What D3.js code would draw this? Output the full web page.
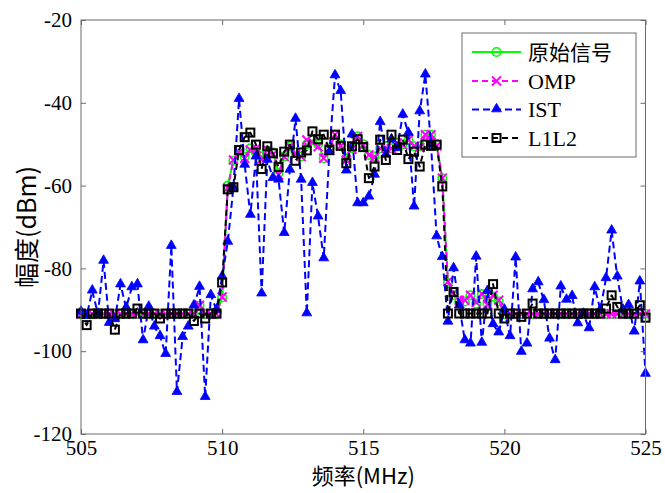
<!DOCTYPE html>
<html><head><meta charset="utf-8">
<script src="https://cdn.jsdelivr.net/npm/d3@7"></script>
<style>body{margin:0;background:#fff}svg{display:block}</style>
</head><body>
<svg id="c" width="665" height="493"></svg>
<script>
const freq = [505.0,505.2,505.4,505.6,505.8,506.0,506.2,506.4,506.6,506.8,507.0,507.2,507.4,507.6,507.8,508.0,508.2,508.4,508.6,508.8,
509.0,509.2,509.4,509.6,509.8,510.0,510.2,510.4,510.6,510.8,511.0,511.2,511.4,511.6,511.8,512.0,512.2,512.4,512.6,512.8,
513.0,513.2,513.4,513.6,513.8,514.0,514.2,514.4,514.6,514.8,515.0,515.2,515.4,515.6,515.8,516.0,516.2,516.4,516.6,516.8,
517.0,517.2,517.4,517.6,517.8,518.0,518.2,518.4,518.6,518.8,519.0,519.2,519.4,519.6,519.8,520.0,520.2,520.4,520.6,520.8,
521.0,521.2,521.4,521.6,521.8,522.0,522.2,522.4,522.6,522.8,523.0,523.2,523.4,523.6,523.8,524.0,524.2,524.4,524.6,524.8,525.0];

const original = [-91,-91,-91,-91,-91,-91,-91,-91,-91,-91,-91,-91,-91,-91,-91,-91,-91,-91,-91,-91,
-91,-89,-91,-91,-91,-87,-60,-54,-51.5,-53,-51,-52,-53,-51.5,-52,-57,-53,-50.5,-52,-53,
-50,-49,-50,-53.4,-51,-47.7,-50,-53.4,-51,-48.1,-50,-52.6,-53,-51,-50.5,-51,-49.7,-50,-48.9,-50.5,
-50.5,-47.7,-47.7,-50,-58.2,-83.5,-86.5,-88,-88,-86.5,-88.5,-86.2,-88.5,-86.8,-88,-91,-91,-91,-91,-91,
-91,-91,-91,-91,-91,-91,-91,-91,-91,-91,-91,-91,-91,-91,-91,-91,-91,-91,-91,-91,-91];

const omp = [-91,-91,-91,-91,-91,-91,-91,-91,-91,-91,-91,-91,-91,-91,-91,-91,-91,-91,-91,-91,
-91,-88.9,-91,-91,-91,-86.9,-60.6,-53.8,-52,-53.4,-51.4,-51,-53.6,-51.4,-52.5,-57.4,-53,-50.5,-52.4,-53,
-49,-49.5,-50.6,-53.4,-51,-47.7,-50.4,-53.8,-51.2,-48.1,-50.3,-52.6,-53.2,-51,-51,-51,-49.7,-50.2,-48.9,-50.5,
-50.8,-47.7,-47.7,-50.4,-58.2,-83.2,-86,-87.7,-87.7,-86.5,-88.2,-86.1,-88.8,-86.5,-87.7,-91,-91,-91,-91,-91,
-91,-91,-91,-91,-91,-91,-91,-91,-91,-91,-91,-91,-91,-91,-91,-91,-91,-91,-91,-91,-91];

const ist = [-90.5,-91.5,-85.4,-91,-78.2,-93.2,-92.3,-83.9,-89.5,-84.6,-83.9,-97.4,-89.3,-94.1,-96.4,-100.7,-74.6,-109.9,-96.6,-94.1,
-89,-84.5,-111.1,-86.5,-90,-82,-73.6,-60.5,-39.1,-55,-67.1,-53,-86.1,-53.8,-58.2,-58.6,-71.5,-56.2,-43.9,-58.6,
-90.9,-59.4,-67.5,-77.6,-52,-33.4,-37.2,-56.4,-47.7,-64.3,-64.3,-62.7,-57.4,-44.7,-52.6,-48.9,-51,-42.9,-47.3,-65.1,
-42.1,-33.2,-50,-72.3,-77.3,-92.9,-80,-89,-97.4,-98.2,-77.2,-98,-85.5,-93.5,-95.5,-90,-96.4,-77.4,-100.2,-98.2,
-85.1,-83.4,-87.7,-97,-102.2,-84.4,-87.6,-86.7,-93.3,-91,-94.5,-84.6,-90,-82.4,-70.9,-82,-90,-88.9,-95.3,-83.2,-105.5];

const l1l2 = [-90.9,-93.7,-90.9,-90.9,-90.9,-90.9,-94.8,-90.9,-90.9,-90.9,-89.7,-90.9,-90.9,-90.9,-92.1,-90.9,-90.9,-90.9,-90.9,-90.9,
-92.7,-90.9,-92.1,-90.9,-90.9,-83.4,-60.9,-60.4,-51.4,-48.3,-47.2,-50.1,-56,-50.5,-52.2,-55.5,-51.8,-50.1,-54,-52,
-51.5,-46.9,-48.8,-47.7,-51.4,-47.7,-50.4,-54.6,-50.5,-48.8,-50.7,-58.2,-55.4,-48.9,-53.8,-47.7,-51.4,-48.9,-53.6,-51.8,
-55.4,-50.1,-50.4,-50.1,-60.2,-90.9,-85.7,-90.9,-90.9,-90.9,-90.9,-90.9,-90.9,-83.8,-90.9,-92.1,-90.9,-90.9,-91.7,-90.9,
-88.5,-90.9,-90.9,-90.9,-90.9,-90.9,-90.9,-90.9,-90.9,-90.9,-90.9,-90.9,-90.9,-89.7,-86.5,-89.3,-90.9,-90.9,-90.9,-88.9,-91.9];

const xTicks = [505,510,515,520,525];
const yTicks = [-120,-100,-80,-60,-40,-20];
const seriesNames = ["原始信号","OMP","IST","L1L2"];
const xTitle = "频率(MHz)";
const yTitle = "幅度(dBm)";

const svg = d3.select("#c");
const L = 81, R = 645.5, T = 20, B = 434;
const x = d3.scaleLinear().domain([505,525]).range([L,R]);
const y = d3.scaleLinear().domain([-120,-20]).range([B,T]);

const seriesStyle = [
  {data: original, color:"#00ff00", dash:null, marker:"circle"},
  {data: omp, color:"#ff00ff", dash:"6,4", marker:"x"},
  {data: ist, color:"#0000ff", dash:"7,4", marker:"tri"},
  {data: l1l2, color:"#000000", dash:"6,4", marker:"square"}
];

svg.append("clipPath").attr("id","pc").append("rect")
  .attr("x",L-6).attr("y",T-6).attr("width",R-L+12).attr("height",B-T+12);
const plot = svg.append("g").attr("clip-path","url(#pc)");

function drawMarker(g, type, color, cx, cy){
  if(type==="circle"){
    g.append("circle").attr("cx",cx).attr("cy",cy).attr("r",4.2)
      .attr("fill","none").attr("stroke",color).attr("stroke-width",1.6);
  } else if(type==="x"){
    const s=4.5;
    g.append("path").attr("d",`M${cx-s},${cy-s}L${cx+s},${cy+s}M${cx-s},${cy+s}L${cx+s},${cy-s}`)
      .attr("stroke",color).attr("stroke-width",2).attr("fill","none");
  } else if(type==="tri"){
    g.append("path").attr("d",d3.symbol(d3.symbolTriangle,42)()).attr("transform",`translate(${cx},${cy-0.5})`)
      .attr("fill",color).attr("stroke",color).attr("stroke-width",0.8);
  } else if(type==="square"){
    g.append("rect").attr("x",cx-4).attr("y",cy-4).attr("width",8).attr("height",8)
      .attr("fill","none").attr("stroke",color).attr("stroke-width",2);
  }
}

const line = d3.line().x((d,i)=>x(freq[i])).y(d=>y(d));
seriesStyle.forEach(s=>{
  const g = plot.append("g");
  g.append("path").attr("d",line(s.data)).attr("fill","none")
    .attr("stroke",s.color).attr("stroke-width",2)
    .attr("stroke-dasharray",s.dash).attr("stroke-linejoin","round");
  s.data.forEach((v,i)=>drawMarker(g,s.marker,s.color,x(freq[i]),y(v)));
});

const axisColor = "#6b6b6b";
svg.append("rect").attr("x",L).attr("y",T).attr("width",R-L).attr("height",B-T)
  .attr("fill","none").attr("stroke",axisColor).attr("stroke-width",1);

const fmt = d => String(d);
const xb = d3.axisBottom(x).tickValues(xTicks).tickSize(-5).tickPadding(6).tickFormat(fmt);
const xt = d3.axisTop(x).tickValues(xTicks).tickSize(-5).tickFormat("");
const yl = d3.axisLeft(y).tickValues(yTicks).tickSize(-5).tickPadding(9).tickFormat(fmt);
const yr = d3.axisRight(y).tickValues(yTicks).tickSize(-5).tickFormat("");

function styleAxis(g){
  g.select(".domain").remove();
  g.selectAll(".tick line").attr("stroke",axisColor);
  g.selectAll(".tick text").attr("fill","#000")
    .style("font-family","'Liberation Serif','Times New Roman',serif").style("font-size","21px");
}
svg.append("g").attr("transform",`translate(0,${B})`).call(xb).call(styleAxis);
svg.append("g").attr("transform",`translate(0,${T})`).call(xt).call(styleAxis);
svg.append("g").attr("transform",`translate(${L},0)`).call(yl).call(styleAxis);
svg.append("g").attr("transform",`translate(${R},0)`).call(yr).call(styleAxis);

svg.append("text").attr("x",(L+R)/2).attr("y",484).attr("text-anchor","middle")
  .style("font-family","'Noto Sans CJK SC','Liberation Sans',sans-serif").style("font-size","22px")
  .text(xTitle);
svg.append("text").attr("transform",`translate(36,${(T+B)/2}) rotate(-90)`).attr("text-anchor","middle")
  .style("font-family","'Noto Sans CJK SC','Liberation Sans',sans-serif").style("font-size","25px")
  .text(yTitle);

const lg = svg.append("g");
lg.append("rect").attr("x",462).attr("y",33).attr("width",174).attr("height",124)
  .attr("fill","#fff").attr("stroke",axisColor).attr("stroke-width",1);
const legY = [52,81,109.5,138];
seriesStyle.forEach((s,i)=>{
  const yy = legY[i];
  lg.append("line").attr("x1",472).attr("x2",521).attr("y1",yy).attr("y2",yy)
    .attr("stroke",s.color).attr("stroke-width",2).attr("stroke-dasharray",s.dash);
  drawMarker(lg,s.marker,s.color,496.5,yy);
  lg.append("text").attr("x",528).attr("y",yy+7.5)
    .style("font-family", i===0 ? "'Noto Sans CJK SC',sans-serif" : "'Liberation Serif','Times New Roman',serif")
    .style("font-size", i===0 ? "21px" : "22px")
    .text(seriesNames[i]);
});
</script>
</body></html>
